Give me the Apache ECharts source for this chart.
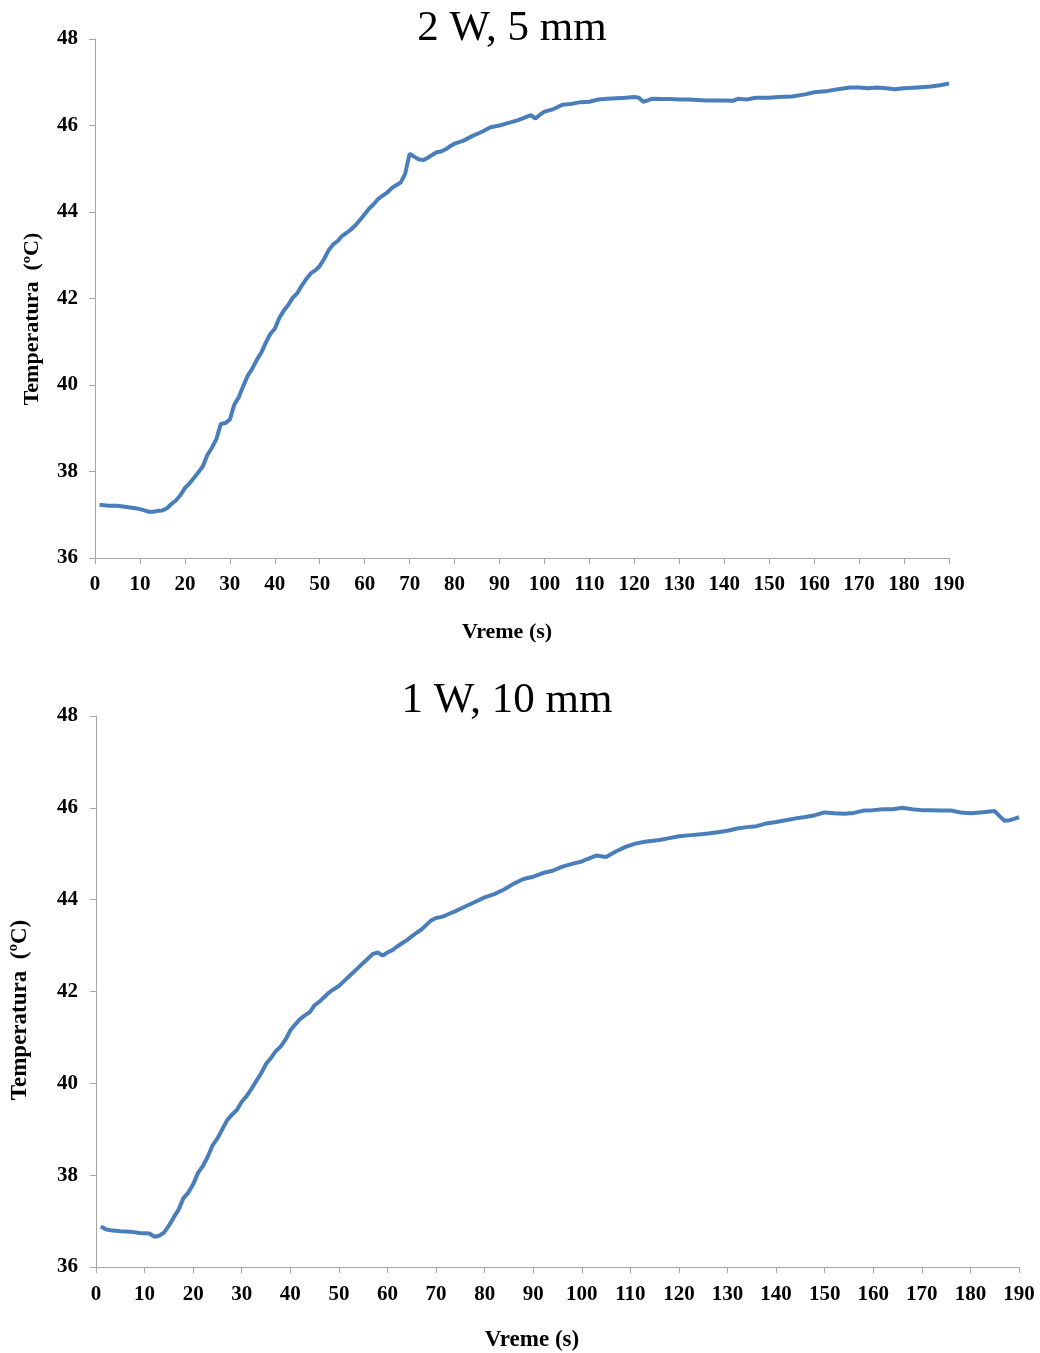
<!DOCTYPE html>
<html>
<head>
<meta charset="utf-8">
<script src="https://cdn.jsdelivr.net/npm/echarts@6/dist/echarts.min.js"></script>
<style>
html,body{margin:0;padding:0;background:#fff;}
#c{width:1040px;height:1353px;}
</style>
</head>
<body>
<div id="c"></div>
<script>
// ---- data ----
const titleTop = "2 W, 5 mm";
const titleBottom = "1 W, 10 mm";
const xName = "Vreme (s)";
const yName = "Temperatura  (ºC)";

const timeTop = [1,3,5,7,9,10,11,12,13,14,15,16,17,18,19,20,21,22,23,24,25,26,27,28,29,30,31,32,33,34,35,36,37,38,39,40,41,42,43,44,45,46,47,48,49,50,51,52,53,54,55,56,57,58,59,60,61,62,63,64,65,66,67,68,69,70,71,72,73,74,75,76,77,78,79,80,82,84,86,88,90,92,94,96,97,98,99,100,102,104,106,108,110,112,114,116,118,120,121,122,123,124,126,128,130,132,134,136,138,140,142,143,145,147,150,152,155,158,160,163,166,168,170,172,174,176,178,180,183,186,188,190];
const tempTop = [37.23,37.21,37.21,37.18,37.15,37.13,37.10,37.07,37.07,37.09,37.10,37.15,37.25,37.33,37.45,37.62,37.72,37.85,37.98,38.12,38.38,38.55,38.75,39.10,39.12,39.20,39.55,39.72,39.98,40.22,40.38,40.58,40.75,40.98,41.18,41.30,41.55,41.72,41.85,42.02,42.12,42.30,42.45,42.58,42.65,42.75,42.92,43.12,43.25,43.33,43.45,43.52,43.60,43.70,43.82,43.95,44.08,44.18,44.30,44.38,44.45,44.55,44.62,44.68,44.88,45.35,45.28,45.22,45.20,45.25,45.32,45.38,45.40,45.45,45.52,45.58,45.65,45.76,45.85,45.96,46.00,46.06,46.12,46.20,46.24,46.16,46.25,46.32,46.38,46.48,46.50,46.54,46.55,46.60,46.62,46.63,46.64,46.66,46.64,46.55,46.58,46.62,46.61,46.61,46.60,46.60,46.59,46.58,46.58,46.58,46.57,46.62,46.60,46.64,46.64,46.66,46.67,46.72,46.77,46.80,46.85,46.88,46.88,46.86,46.88,46.86,46.84,46.86,46.88,46.90,46.93,46.97];

const timeBottom = [1,2,3,5,7,9,11,12,13,14,15,16,17,18,19,20,21,22,23,24,25,26,27,28,29,30,31,32,33,34,35,36,37,38,39,40,41,42,43,44,45,46,47,48,49,50,51,52,53,54,55,56,57,58,59,60,61,62,63,64,65,66,67,68,69,70,71,72,74,76,78,80,82,84,86,88,90,92,94,96,98,100,101,103,105,107,109,111,113,116,118,120,122,124,126,128,130,132,134,136,138,140,142,144,146,148,150,152,154,156,158,160,162,164,166,168,170,172,174,176,178,180,182,184,185,186,187,188,189,190];
const tempBottom = [36.88,36.82,36.80,36.78,36.77,36.74,36.73,36.66,36.68,36.75,36.90,37.08,37.25,37.50,37.62,37.80,38.05,38.20,38.40,38.65,38.80,39.00,39.20,39.32,39.42,39.60,39.72,39.88,40.05,40.22,40.42,40.55,40.70,40.80,40.95,41.15,41.28,41.40,41.48,41.55,41.70,41.78,41.88,41.98,42.05,42.12,42.22,42.32,42.42,42.52,42.62,42.72,42.82,42.85,42.78,42.85,42.90,42.98,43.05,43.12,43.20,43.28,43.35,43.45,43.55,43.60,43.62,43.66,43.75,43.85,43.95,44.05,44.12,44.22,44.35,44.45,44.50,44.58,44.63,44.72,44.78,44.83,44.88,44.96,44.93,45.05,45.15,45.22,45.26,45.30,45.34,45.38,45.40,45.42,45.44,45.47,45.50,45.55,45.58,45.60,45.66,45.69,45.73,45.77,45.80,45.84,45.90,45.88,45.87,45.89,45.94,45.95,45.97,45.97,46.00,45.97,45.95,45.95,45.94,45.94,45.90,45.88,45.90,45.92,45.93,45.82,45.72,45.73,45.76,45.80];

const xMin = 0, xMax = 190, xStep = 10;
const yMin = 36, yMax = 48, yStep = 2;

// ---- chart ----
const pair = (t, v) => t.map((x, i) => [x, v[i]]);
const serif = '"Liberation Serif","Times New Roman",serif';
const axisColor = '#a6a6a6';

function xAx(gi, margin) {
  return {
    type: 'value', gridIndex: gi, min: xMin, max: xMax, interval: xStep,
    axisLine: {show: true, onZero: false, lineStyle: {color: axisColor, width: 1}},
    axisTick: {show: true, length: 6, lineStyle: {color: axisColor}},
    splitLine: {show: false},
    axisLabel: {fontFamily: serif, fontWeight: 'bold', fontSize: 21, color: '#000', margin: margin}
  };
}
function yAx(gi, margin) {
  return {
    type: 'value', gridIndex: gi, min: yMin, max: yMax, interval: yStep,
    axisLine: {show: true, lineStyle: {color: axisColor, width: 1}},
    axisTick: {show: true, length: 6, lineStyle: {color: axisColor}},
    splitLine: {show: false},
    axisLabel: {fontFamily: serif, fontWeight: 'bold', fontSize: 21, color: '#000', margin: margin}
  };
}
function txt(text, x, y, size, weight, rot) {
  return {
    type: 'text', x: x, y: y, rotation: rot || 0,
    style: {text: text, x: 0, y: 0, align: 'center', verticalAlign: 'middle',
      font: weight + ' ' + size + 'px ' + serif, fill: '#000'}
  };
}

const chart = echarts.init(document.getElementById('c'));
chart.setOption({
  backgroundColor: '#fff',
  animation: false,
  grid: [
    {left: 95, top: 39, width: 854, height: 519},
    {left: 96, top: 716, width: 923, height: 551}
  ],
  xAxis: [xAx(0, 16), xAx(1, 17)],
  yAxis: [yAx(0, 17), yAx(1, 18)],
  series: [
    {type: 'line', xAxisIndex: 0, yAxisIndex: 0, data: pair(timeTop, tempTop), showSymbol: false,
      lineStyle: {color: '#4a7ebb', width: 4}, itemStyle: {color: '#4a7ebb'}},
    {type: 'line', xAxisIndex: 1, yAxisIndex: 1, data: pair(timeBottom, tempBottom), showSymbol: false,
      lineStyle: {color: '#4a7ebb', width: 4}, itemStyle: {color: '#4a7ebb'}}
  ],
  graphic: [
    txt(titleTop, 512, 29, 43, 'normal'),
    txt(titleBottom, 507, 701, 43, 'normal'),
    txt(xName, 507, 632, 22, 'bold'),
    txt(xName, 532, 1340, 23, 'bold'),
    txt(yName, 32, 319, 22, 'bold', Math.PI / 2),
    txt(yName, 20, 1010, 23, 'bold', Math.PI / 2)
  ]
});
</script>
</body>
</html>
